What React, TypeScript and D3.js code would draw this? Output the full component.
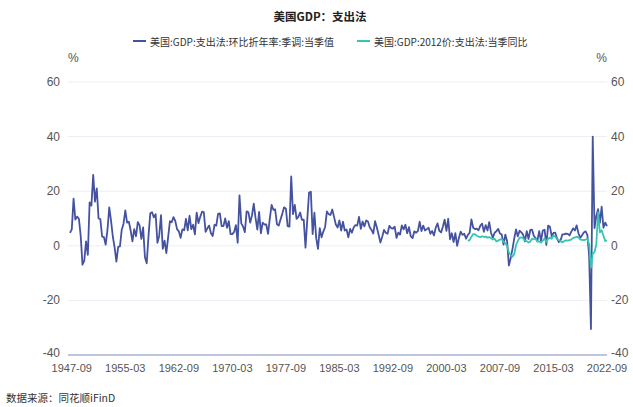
import React, { useEffect, useRef } from 'react';
import * as d3 from 'd3';

// first quarter of the blue series (quarter-end month)
const blueStart = { year: 1947, month: 6 };
// 美国:GDP:支出法:环比折年率:季调:当季值 (%), 1947-06 .. 2022-09
const nominalQoQ = [
  4.7, 6.0, 17.3,
  9.6, 10.7, 9.9, 3.6,
  -6.9, -5.4, 1.6, -3.3,
  15.9, 14.7, 26.0, 16.2,
  21.0, 10.0, 9.8, 3.4,
  3.2, 0.4, 5.8, 14.1,
  9.2, 3.4, -0.6, -5.8,
  -0.4, -0.2, 5.9, 8.1,
  13.0, 8.5, 8.8, 5.6,
  1.6, 6.1, 3.5, 8.7,
  7.5, 2.5, 6.7, -4.2,
  -6.4, 3.6, 11.9, 12.3,
  10.4, 11.6, 1.1, 3.7,
  11.2, -1.1, 1.9, -2.7,
  3.1, 9.0, 8.6, 10.5,
  9.1, 6.1, 5.3, 2.9,
  6.0, 5.7, 9.9, 5.7,
  11.0, 6.1, 7.7, 4.2,
  12.1, 8.3, 10.6, 12.5,
  12.3, 5.1, 6.4, 7.4,
  4.6, 3.6, 7.7, 7.4,
  11.7, 11.9, 7.2, 7.2,
  10.0, 6.6, 9.0, 4.3,
  4.3, 5.1, 7.6, 1.1,
  18.5, 8.2, 7.1, 5.0,
  12.6, 12.3, 8.5, 11.1,
  15.4, 10.2, 5.9, 12.4,
  4.6, 8.5, 7.8, 7.8,
  4.4, 10.0, 15.0, 13.2,
  13.3, 7.9, 7.4, 9.6,
  11.7, 14.1, 13.6, 7.2,
  7.0, 25.4, 11.6, 15.0,
  9.9, 10.6, 12.2, 9.5,
  9.6, -0.7, 9.6, 19.5,
  19.8, 4.3, 12.1, 2.8,
  -1.1, 6.5, 3.1, 5.2,
  6.9, 12.6, 11.6, 11.3,
  13.3, 10.6, 7.8, 6.7,
  9.3, 5.6, 8.8, 5.6,
  6.0, 3.1, 6.2, 4.8,
  6.7, 7.6, 7.4, 10.6,
  6.2, 8.9, 7.1, 9.3,
  8.9, 6.8, 5.8, 4.5,
  9.0, 6.7, 4.0, 1.2,
  3.3, 5.8, 4.8, 4.4,
  7.3, 6.5, 6.3, 7.0,
  2.9, 4.8, 4.1, 7.5,
  6.0, 7.7, 4.6, 6.8,
  3.5, 2.8, 5.3, 4.8,
  5.4, 8.8, 5.4, 7.4,
  5.6, 6.1, 6.6, 4.4,
  5.4, 3.8, 6.6, 8.2,
  5.5, 4.9, 7.0, 9.6,
  5.5, 9.9, 2.4, 4.6,
  1.4, 4.6, 0.0, 2.9,
  5.2, 4.0, 4.4, 2.6,
  4.0, 4.7, 9.7, 6.6,
  6.1, 6.3, 5.7, 7.4,
  8.1, 5.1, 7.6, 5.6,
  8.7, 4.7, 3.0, 4.8,
  5.3, 6.2, 4.5, 4.1,
  0.4, 4.1, 1.7, -7.2,
  -4.6, -1.2, 2.6, 6.0,
  3.5, 5.5, 4.9, 4.1,
  1.6, 5.4, 2.5, 5.8,
  5.9, 3.6, 2.8, 1.9,
  5.4, 1.7, 5.6, 5.9,
  0.3, 7.4, 7.0, 3.5,
  4.7, 4.8, 2.7, 1.4,
  2.0, 4.2, 4.2, 4.5,
  4.4, 3.8, 5.2, 6.4,
  5.6, 7.5, 4.6, 2.9,
  3.9, 4.9, 5.3, 4.0,
  -3.9, -30.5, 40.0, 6.5,
  10.9, 13.4, 8.4, 14.3,
  6.6, 8.5, 7.2,
];

// 美国:GDP:2012价:支出法:当季同比 (%), 2003-03 .. 2022-09
const tealStart = { year: 2003, month: 3 };
const realYoY = [
  1.8, 2.1, 3.3, 4.3,
  4.2, 3.7, 3.4, 3.2,
  3.5, 3.3, 3.4, 3.0,
  3.2, 2.8, 2.3, 2.6,
  1.6, 1.9, 2.3, 2.5,
  1.5, 1.0, -0.1, -2.5,
  -3.3, -4.0, -3.1, 0.2,
  1.7, 3.0, 3.1, 2.8,
  1.9, 1.7, 1.2, 1.6,
  2.6, 2.4, 2.6, 1.5,
  1.6, 1.2, 1.9, 2.6,
  1.5, 2.6, 3.0, 2.6,
  3.8, 3.3, 2.4, 2.2,
  1.6, 1.3, 1.7, 2.0,
  1.9, 2.1, 2.3, 2.8,
  3.1, 3.3, 3.1, 2.3,
  2.2, 2.1, 2.3, 2.6,
  0.6, -8.0, -2.9, -2.3,
  0.5, 12.2, 4.9, 5.7,
  3.7, 1.8, 1.9,
];

const yTicks = [-40, -20, 0, 20, 40, 60];
const xTickLabels = ['1947-09', '1955-03', '1962-09', '1970-03', '1977-09', '1985-03',
  '1992-09', '2000-03', '2007-09', '2015-03', '2022-09'];

const BLUE = '#45529f';
const TEAL = '#35c6b2';
const TICK_FONT = "'Liberation Sans', Arial, sans-serif";
const CJK_FONT = "'Noto Sans CJK SC', 'Noto Sans', sans-serif";

const monthIndex = (y: number, m: number) => y * 12 + m;
const toSeries = (start: { year: number, month: number }, vals: number[]) =>
  vals.map((v, i) => ({ t: monthIndex(start.year, start.month) + i * 3, v }));

export default function App() {
  const ref = useRef<SVGSVGElement>(null);

  useEffect(() => {
    const svg = d3.select(ref.current);
    svg.selectAll('*').remove();

    const plotLeft = 68, plotRight = 607;

    const x = d3.scaleLinear()
      .domain([monthIndex(1947, 6), monthIndex(2022, 9)])
      .range([70, 607]);
    const y = d3.scaleLinear().domain([-40, 60]).range([355, 82]);

    svg.append('rect').attr('width', 633).attr('height', 407).attr('fill', '#fff');

    // title + legend
    svg.append('text')
      .attr('x', 320).attr('y', 16)
      .attr('text-anchor', 'middle').attr('dominant-baseline', 'central')
      .attr('font-family', CJK_FONT).attr('font-weight', 'bold').attr('font-size', 11.5)
      .attr('fill', '#222')
      .text('美国GDP：支出法');

    const legend = [
      { label: '美国:GDP:支出法:环比折年率:季调:当季值', color: BLUE, x: 133 },
      { label: '美国:GDP:2012价:支出法:当季同比', color: TEAL, x: 357 },
    ];
    legend.forEach(l => {
      svg.append('line')
        .attr('x1', l.x).attr('x2', l.x + 13).attr('y1', 41).attr('y2', 41)
        .attr('stroke', l.color).attr('stroke-width', 2);
      svg.append('text')
        .attr('x', l.x + 17).attr('y', 41).attr('dominant-baseline', 'central')
        .attr('font-family', CJK_FONT).attr('font-size', 10).attr('fill', '#333')
        .text(l.label);
    });

    // grid
    svg.append('g').selectAll('line').data(yTicks.filter(d => d !== -40)).enter()
      .append('line')
      .attr('x1', plotLeft).attr('x2', plotRight)
      .attr('y1', d => y(d)).attr('y2', d => y(d))
      .attr('stroke', '#eceef7').attr('stroke-width', 1);

    // bottom axis line
    svg.append('line')
      .attr('x1', plotLeft).attr('x2', plotRight).attr('y1', y(-40)).attr('y2', y(-40))
      .attr('stroke', '#aab2d6').attr('stroke-width', 1.5);

    // y labels both sides
    const yl = svg.append('g')
      .attr('font-family', TICK_FONT).attr('font-size', 12).attr('fill', '#555');
    yl.selectAll('.yl').data(yTicks).enter().append('text')
      .attr('x', 60).attr('y', d => y(d) - (d === -40 ? 2 : 0)).attr('text-anchor', 'end')
      .attr('dominant-baseline', 'central').text(d => d);
    yl.selectAll('.yr').data(yTicks).enter().append('text')
      .attr('x', 611).attr('y', d => y(d) - (d === -40 ? 2 : 0)).attr('text-anchor', 'start')
      .attr('dominant-baseline', 'central').text(d => d);
    yl.append('text').attr('x', plotLeft).attr('y', 58).attr('dominant-baseline', 'central').text('%');
    yl.append('text').attr('x', plotRight).attr('y', 58).attr('text-anchor', 'end')
      .attr('dominant-baseline', 'central').text('%');

    // x labels
    svg.append('g')
      .attr('font-family', TICK_FONT).attr('font-size', 11).attr('fill', '#555')
      .selectAll('text').data(xTickLabels).enter().append('text')
      .attr('x', d => x(monthIndex(+d.slice(0, 4), +d.slice(5))))
      .attr('y', 368).attr('text-anchor', 'middle').attr('dominant-baseline', 'central')
      .text(d => d);

    // lines
    const line = d3.line<{ t: number, v: number }>().x(d => x(d.t)).y(d => y(d.v));
    svg.append('path').datum(toSeries(blueStart, nominalQoQ))
      .attr('d', line).attr('fill', 'none').attr('stroke', BLUE)
      .attr('stroke-width', 1.8).attr('stroke-linejoin', 'round');
    svg.append('path').datum(toSeries(tealStart, realYoY))
      .attr('d', line).attr('fill', 'none').attr('stroke', TEAL)
      .attr('stroke-width', 1.8).attr('stroke-linejoin', 'round');

    // source
    svg.append('text')
      .attr('x', 6).attr('y', 397).attr('dominant-baseline', 'central')
      .attr('font-family', CJK_FONT).attr('font-size', 10.5).attr('fill', '#333')
      .text('数据来源：同花顺iFinD');
  }, []);

  return (
    <svg ref={ref} width={633} height={407}
      style={{ position: 'absolute', left: 0, top: 0, display: 'block' }} />
  );
}
